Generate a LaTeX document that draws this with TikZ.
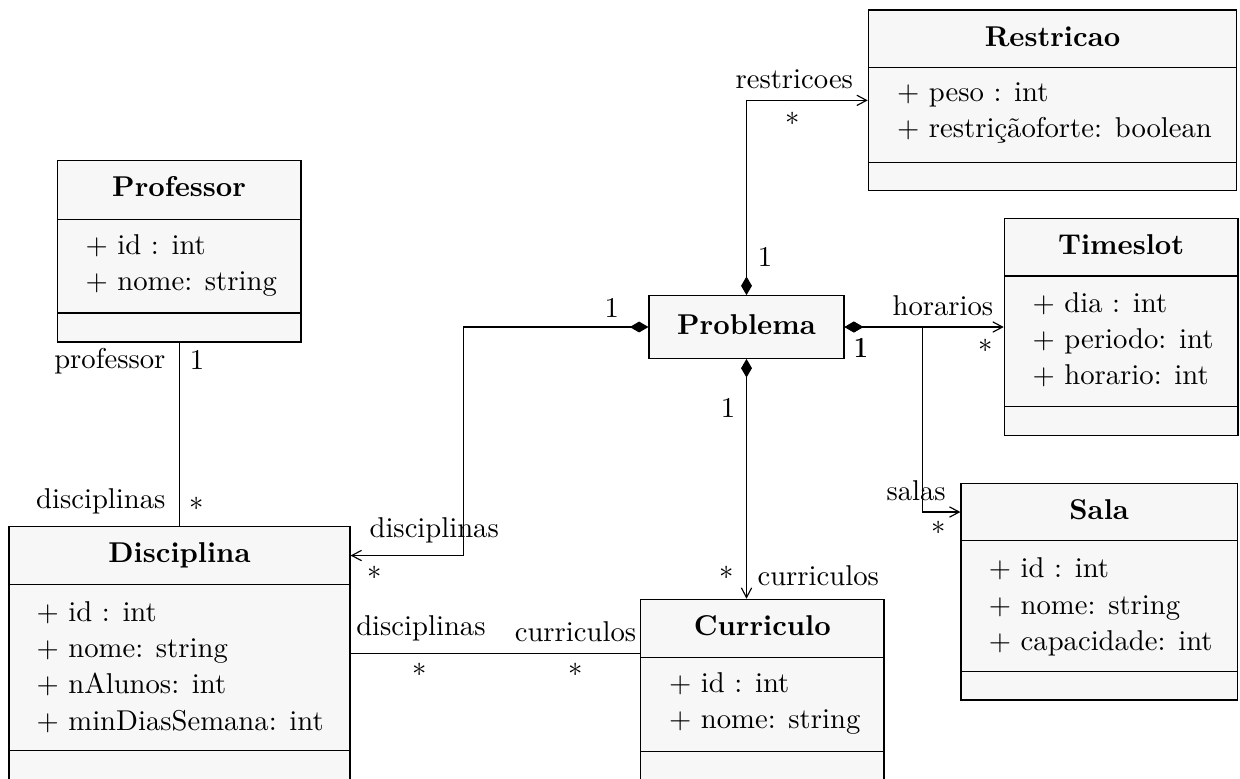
\documentclass[tikz,border=0pt]{standalone}
\usetikzlibrary{arrows.meta,fit}
\begin{document}
\begin{tikzpicture}[x=0.349pt, y=-0.349pt, line width=0.4pt]
\tikzset{
  classframe/.style={draw=black, fill=black!3, inner sep=0pt},
  classname/.style={font=\bfseries, inner sep=0pt, anchor=base},
  attrtext/.style={inner sep=0pt, anchor=base west},
  rolel/.style={inner sep=0pt, anchor=base west},
  roler/.style={inner sep=0pt, anchor=base east},
  mult/.style={inner sep=0pt, anchor=center},
  assoc/.style={-{Straight Barb[length=3.4pt,width=3.6pt]}},
  compo/.style={{Diamond[length=6.5pt,width=3.8pt]}-{Straight Barb[length=3.4pt,width=3.6pt]}},
  plainassoc/.style={-},
}
% #1 name, #2 left, #3 top, #4 right, #5 first rule, #6 second rule, #7 bottom, #8 class name
\newcommand\classbox[8]{%
  \node[classframe, fit={(#2,#3) (#4,#7)}] (#1) {};
  \node[inner sep=0pt, fit={(#2,#3) (#4,#5)}] (#1-title) {};
  \draw (#2,#5) -- (#4,#5);
  \draw (#2,#6) -- (#4,#6);
  \node[classname] (#1-name) at ({(#2+#4)/2},{#3+36}) {#8};
}
\useasboundingbox (0,0) rectangle (1240,778);
\clip (0,0) rectangle (1240,778);

% classes
\classbox{restr}{868.3}{10}{1236.7}{67.7}{162.3}{190.7}{Restricao}
\node[attrtext] (restr-a1) at (896.5,101.7) {+ peso : int};
\node[attrtext] (restr-a2) at (896.5,137.7) {+ restriçãoforte: boolean};

\classbox{prof}{57.3}{160.7}{301}{219.3}{313}{342}{Professor}
\node[attrtext] (prof-a1) at (85,254.3) {+ id : int};
\node[attrtext] (prof-a2) at (85,290.3) {+ nome: string};

\classbox{time}{1004.3}{218.3}{1238}{276}{406.7}{435.7}{Timeslot}
\node[attrtext] (time-a1) at (1032,312.3) {+ dia : int};
\node[attrtext] (time-a2) at (1032,348.3) {+ periodo: int};
\node[attrtext] (time-a3) at (1032,384.3) {+ horario: int};

\classbox{sala}{961}{483.3}{1237.3}{540.7}{671.3}{700}{Sala}
\node[attrtext] (sala-a1) at (988.3,577.3) {+ id : int};
\node[attrtext] (sala-a2) at (988.3,614) {+ nome: string};
\node[attrtext] (sala-a3) at (988.3,650.7) {+ capacidade: int};

\classbox{disc}{9}{526.7}{350}{584.3}{750.7}{780}{Disciplina}
\node[attrtext] (disc-a1) at (36,621) {+ id : int};
\node[attrtext] (disc-a2) at (36,657.3) {+ nome: string};
\node[attrtext] (disc-a3) at (36,693.6) {+ nAlunos: int};
\node[attrtext] (disc-a4) at (36,730) {+ minDiasSemana: int};

\classbox{curr}{640.7}{599.3}{884}{657.3}{751.3}{780}{Curriculo}
\node[attrtext] (curr-a1) at (668.5,692.3) {+ id : int};
\node[attrtext] (curr-a2) at (668.5,728.5) {+ nome: string};

% central class
\node[classframe, fit={(649,295.7) (844,358.3)}] (prob) {};
\node[classname] (prob-name) at (746.5,334) {Problema};

% bend points of the routed connectors
\coordinate (discbend) at (463.3,327);
\coordinate (salabend) at (922.7,327);

% connectors
\draw[compo] (prob.north) |- (restr.west);
\draw[compo] (prob.east) -- (time.west);
\draw[compo] (prob.east) -- (salabend) |- (sala-title.west);
\draw[compo] (prob.west) -- (discbend) |- (disc-title.east);
\draw[compo] (prob.south) -- (prob.south |- curr.north);
\draw[plainassoc] (prof.south) -- (prof.south |- disc.north);
\draw[plainassoc] (disc.east) -- (disc.east -| curr.west);

% roles and multiplicities
\node[rolel] (r-restr) at (735,88.3) {restricoes};
\node[mult] (m-restr) at (793,119) {$*$};
\node[mult] (m-restr1) at (765,256.7) {1};

\node[mult] (m-disc1) at (611.7,308.3) {1};
\node[rolel] (r-disc) at (369,537) {disciplinas};
\node[mult] (m-disc) at (375,573) {$*$};

\node[mult] (m-curr1) at (728,408) {1};
\node[mult] (m-curr) at (727,573) {$*$};
\node[rolel] (r-curr) at (757,585) {curriculos};

\node[rolel] (r-time) at (892,315.7) {horarios};
\node[mult] (m-time) at (986,346) {$*$};
\node[mult] (m-time1) at (860.5,347.5) {1};
\node[mult] (m-sala1) at (861.3,347.5) {1};

\node[rolel] (r-sala) at (886,500.7) {salas};
\node[mult] (m-sala) at (938.3,528) {$*$};

\node[roler] (r-prof) at (166,368.3) {professor};
\node[mult] (m-prof) at (197,360) {1};
\node[roler] (r-profdisc) at (166,508.3) {disciplinas};
\node[mult] (m-profdisc) at (196.7,504) {$*$};

\node[rolel] (r-dc1) at (355.7,635) {disciplinas};
\node[roler] (r-dc2) at (636.7,641.7) {curriculos};
\node[mult] (m-dc1) at (420,670) {$*$};
\node[mult] (m-dc2) at (575.7,670) {$*$};
\end{tikzpicture}
\end{document}
